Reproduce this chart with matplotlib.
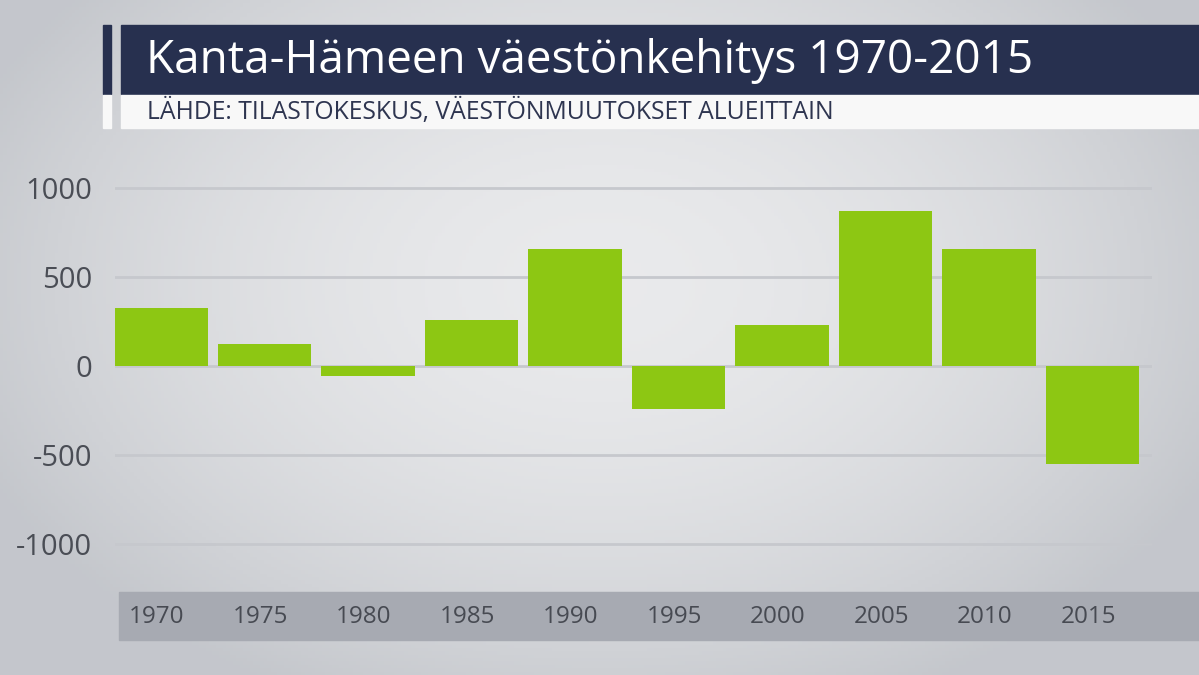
import numpy as np
import matplotlib
matplotlib.use("Agg")
import matplotlib.pyplot as plt
from matplotlib.patches import Rectangle
from matplotlib import font_manager

# ---- data ----
years = ["1970", "1975", "1980", "1985", "1990", "1995", "2000", "2005", "2010", "2015"]
values = [325, 125, -55, 260, 655, -240, 230, 870, 655, -550]
yticks = [-1000, -500, 0, 500, 1000]
title = "Kanta-Hämeen väestönkehitys 1970-2015"
subtitle = "LÄHDE: TILASTOKESKUS, VÄESTÖNMUUTOKSET ALUEITTAIN"

names = {f.name for f in font_manager.fontManager.ttflist}
narrow = "Liberation Sans Narrow" if "Liberation Sans Narrow" in names else "Open Sans"

W, H = 1199, 675
fig = plt.figure(figsize=(W / 100, H / 100), dpi=100)

# background gradient
bg = fig.add_axes([0, 0, 1, 1], zorder=0)
yy, xx = np.mgrid[0:1:200j, 0:1:350j]
d = np.sqrt(((xx - 0.5) / 0.75) ** 2 + ((yy - 0.42) / 0.9) ** 2)
light = np.array([0.915, 0.918, 0.925])
dark = np.array([0.77, 0.78, 0.80])
t = np.clip(d / 0.75, 0, 1) ** 1.8
img = light[None, None, :] * (1 - t[..., None]) + dark[None, None, :] * t[..., None]
bg.imshow(img, extent=[0, 1, 0, 1], aspect="auto", origin="upper")
bg.set_xlim(0, 1)
bg.set_ylim(0, 1)
bg.axis("off")

def fx(px):
    return px / W

def fy(py):
    return 1 - py / H

navy = "#27304f"
# title bar
bg.add_patch(Rectangle((fx(121), fy(94)), fx(W - 121), (94 - 25) / H, color=navy, zorder=2))
bg.add_patch(Rectangle((fx(103), fy(94)), fx(8), (94 - 25) / H, color=navy, zorder=2))
# subtitle bar
bg.add_patch(Rectangle((fx(121), fy(128)), fx(W - 121), (128 - 95) / H, color="#f8f8f8", zorder=2))
bg.add_patch(Rectangle((fx(103), fy(128)), fx(8), (128 - 95) / H, color="#f8f8f8", zorder=2))
# x band
bg.add_patch(Rectangle((fx(119), fy(640)), fx(W - 119), (640 - 592) / H, color="#a7aab2", zorder=2))

t_title = bg.text(fx(146), fy(61), title, color="white", fontsize=42, family=narrow,
                  va="center", ha="left", zorder=3)
t_sub = bg.text(fx(147), fy(112), subtitle, color="#2e3550", fontsize=18, family="Open Sans",
                va="center", ha="left", zorder=3)

# fit widths to the reference
fig.canvas.draw()
r = fig.canvas.get_renderer()
for txt, target in ((t_title, 1035 - 148), (t_sub, 838 - 147)):
    w = txt.get_window_extent(r).width
    txt.set_fontsize(txt.get_fontsize() * target / w)

# main axes: x 115..1152 px, y such that 1000 -> 188px, -1000 -> 544px
ppu = (544 - 188) / 2000.0
top_px, bot_px = 160, 580
ymax = 1000 + (188 - top_px) / ppu
ymin = -1000 - (bot_px - 544) / ppu
spacing = 103.5
x0 = 161
xmin = (115 - x0) / spacing
xmax = (1152 - x0) / spacing

ax = fig.add_axes([fx(115), 1 - bot_px / H, (1152 - 115) / W, (bot_px - top_px) / H], zorder=1)
ax.patch.set_alpha(0)
x = np.arange(len(years))
ax.bar(x, values, width=0.9, color="#8dc713", zorder=3)
ax.set_xlim(xmin, xmax)
ax.set_ylim(ymin, ymax)
for v in yticks:
    ax.axhline(v, color="#c6c8cd", lw=2, zorder=1)
ax.set_yticks(yticks)
ax.set_yticklabels([str(v) for v in yticks], fontsize=21, color="#4a4d55", family="Open Sans")
ax.tick_params(axis="y", length=0, pad=16.5)
ax.set_xticks([])
for s in ax.spines.values():
    s.set_visible(False)

# x labels in the band
for i, yr in enumerate(years):
    px = x0 + i * spacing
    bg.text(fx(px - 4), fy(617), yr, fontsize=17.5, color="#474a52", family="Open Sans",
            ha="center", va="center", zorder=3)

fig.savefig("out.png", dpi=100)
